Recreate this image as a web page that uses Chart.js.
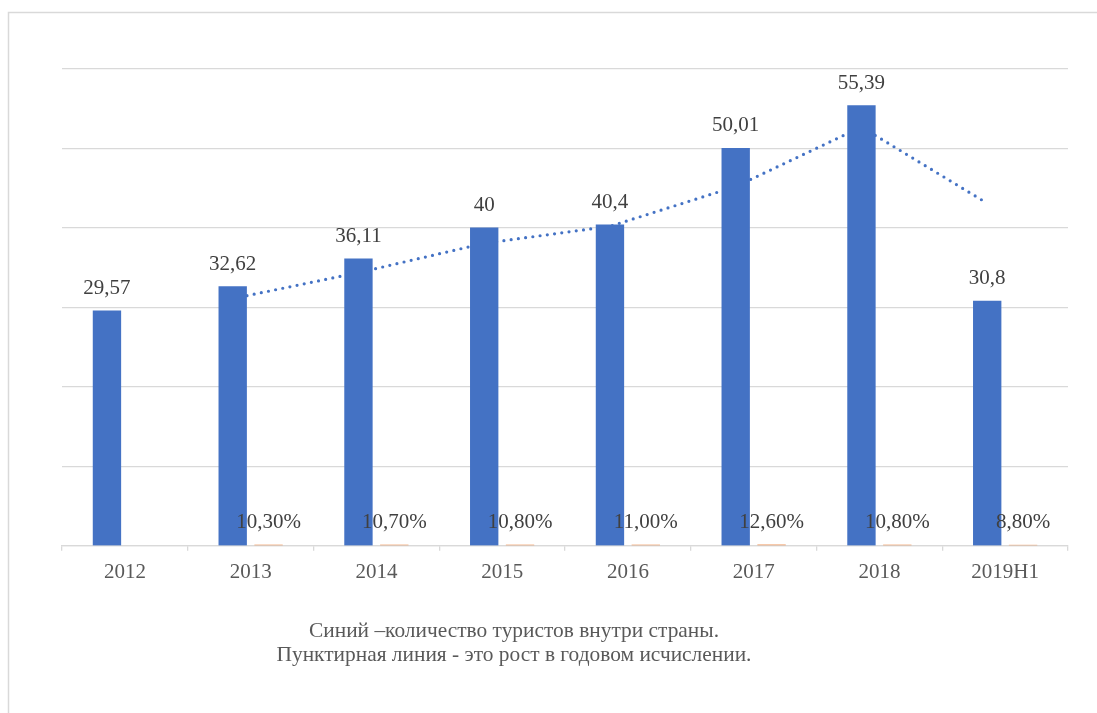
<!DOCTYPE html>
<html lang="ru">
<head>
<meta charset="utf-8">
<title>Туристы внутри страны</title>
<script src="https://cdn.jsdelivr.net/npm/chart.js@4/dist/chart.umd.min.js"></script>
<style>
  html, body { margin: 0; padding: 0; background: #fff; overflow: hidden; }
  canvas { display: block; }
</style>
</head>
<body>
<canvas id="tourismChart" width="1097" height="713"></canvas>
<script>
// ===============================
// Data
// ===============================
const categories = ["2012", "2013", "2014", "2015", "2016", "2017", "2018", "2019H1"];
const touristValues = [29.57, 32.62, 36.11, 40, 40.4, 50.01, 55.39, 30.8];
// year-on-year growth, shown as labels along the base
const growthRates = [null, 0.103, 0.107, 0.108, 0.110, 0.126, 0.108, 0.088];
// dotted trend line
const trendValues = [null, 31.1, 34.37, 38.06, 40.2, 45.21, 52.7, 43.1];
const yMin = 0;
const yMax = 60;
const yStep = 10;
const captionLines = [
  "Синий –количество туристов внутри страны.",
  "Пунктирная линия - это рост в годовом исчислении."
];

const SERIF = "'Liberation Serif', 'Times New Roman', serif";
const BLUE = "#4472C4";
const ORANGE = "#ED7D31";
const GRID = "#d9d9d9";

// bar pair layout inside one category (fractions of the category width)
const PAIR_SHIFT = 0.1425;
const BAR_WIDTH = 27.7;

const fmtNum = v => String(v).replace(".", ",");
const fmtPct = v => (v * 100).toFixed(2).replace(".", ",") + "%";
const toPoints = arr => arr
  .map((v, i) => ({ x: i, y: v }))
  .filter(p => p.y != null);

// ===============================
// Plugins
// ===============================
const frameAndLabels = {
  id: "frameAndLabels",
  beforeDraw(chart) {
    const ctx = chart.ctx;
    ctx.save();
    ctx.fillStyle = "#fff";
    ctx.fillRect(0, 0, chart.width, chart.height);
    ctx.strokeStyle = GRID;
    ctx.lineWidth = 1.5;
    ctx.strokeRect(8.5, 12.5, 1300, 900);
    ctx.restore();
  },
  afterDatasetsDraw(chart) {
    const ctx = chart.ctx;
    const area = chart.chartArea;
    ctx.save();
    ctx.font = `21px ${SERIF}`;
    ctx.textAlign = "center";

    // values above the blue bars
    ctx.fillStyle = "#404040";
    ctx.textBaseline = "alphabetic";
    const blue = chart.data.datasets[0].data;
    chart.getDatasetMeta(0).data.forEach((bar, j) => {
      ctx.fillText(fmtNum(blue[j].y), bar.x, bar.y - 17);
    });

    // growth rates near the base
    ctx.textBaseline = "middle";
    const growth = chart.data.datasets[1].data;
    chart.getDatasetMeta(1).data.forEach((bar, j) => {
      ctx.fillText(fmtPct(growth[j].y), bar.x, area.bottom - 23.5);
    });

    // caption under the axis
    ctx.font = `21.4px ${SERIF}`;
    ctx.fillStyle = "#595959";
    ctx.fillText(captionLines[0], 514, 631);
    ctx.fillText(captionLines[1], 514, 655);
    ctx.restore();
  }
};

// ===============================
// Chart
// ===============================
const n = categories.length;

new Chart(document.getElementById("tourismChart"), {
  data: {
    labels: categories,
    datasets: [
      {
        type: "bar",
        label: "Туристы",
        data: toPoints(touristValues),
        xAxisID: "xLeft",
        grouped: false,
        categoryPercentage: 1,
        barPercentage: 1,
        maxBarThickness: BAR_WIDTH,
        backgroundColor: BLUE,
        order: 1
      },
      {
        type: "bar",
        label: "Рост",
        data: toPoints(growthRates),
        xAxisID: "xRight",
        grouped: false,
        categoryPercentage: 1,
        barPercentage: 1,
        maxBarThickness: BAR_WIDTH,
        backgroundColor: "rgba(237, 125, 49, 0.55)",
        order: 1
      },
      {
        type: "line",
        label: "Тренд",
        data: toPoints(trendValues),
        xAxisID: "xLeft",
        borderColor: BLUE,
        borderWidth: 3.2,
        borderDash: [0, 7.3],
        borderCapStyle: "round",
        pointRadius: 0,
        tension: 0,
        fill: false,
        order: 2
      }
    ]
  },
  options: {
    responsive: false,
    animation: false,
    devicePixelRatio: 1,
    layout: {
      padding: { left: 62, top: 69, right: 29, bottom: 119.5 }
    },
    plugins: {
      legend: { display: false },
      tooltip: { enabled: false }
    },
    scales: {
      x: {
        type: "category",
        offset: true,
        grid: {
          offset: true,
          drawOnChartArea: false,
          tickLength: 5,
          color: GRID,
          lineWidth: 1.3
        },
        border: { color: GRID, width: 1.3 },
        ticks: {
          color: "#595959",
          font: { family: SERIF, size: 21 },
          padding: 8.8,
          maxRotation: 0,
          autoSkip: false
        }
      },
      // left slot of each category: blue bars and the trend line
      xLeft: {
        type: "linear",
        display: false,
        offset: false,
        min: -0.5 + PAIR_SHIFT,
        max: n - 0.5 + PAIR_SHIFT
      },
      // right slot of each category: growth bars
      xRight: {
        type: "linear",
        display: false,
        offset: false,
        min: -0.5 - PAIR_SHIFT,
        max: n - 0.5 - PAIR_SHIFT
      },
      y: {
        min: yMin,
        max: yMax,
        ticks: { display: false, stepSize: yStep },
        grid: { color: GRID, lineWidth: 1.3, drawTicks: false },
        border: { display: false }
      }
    }
  },
  plugins: [frameAndLabels]
});
</script>
</body>
</html>
